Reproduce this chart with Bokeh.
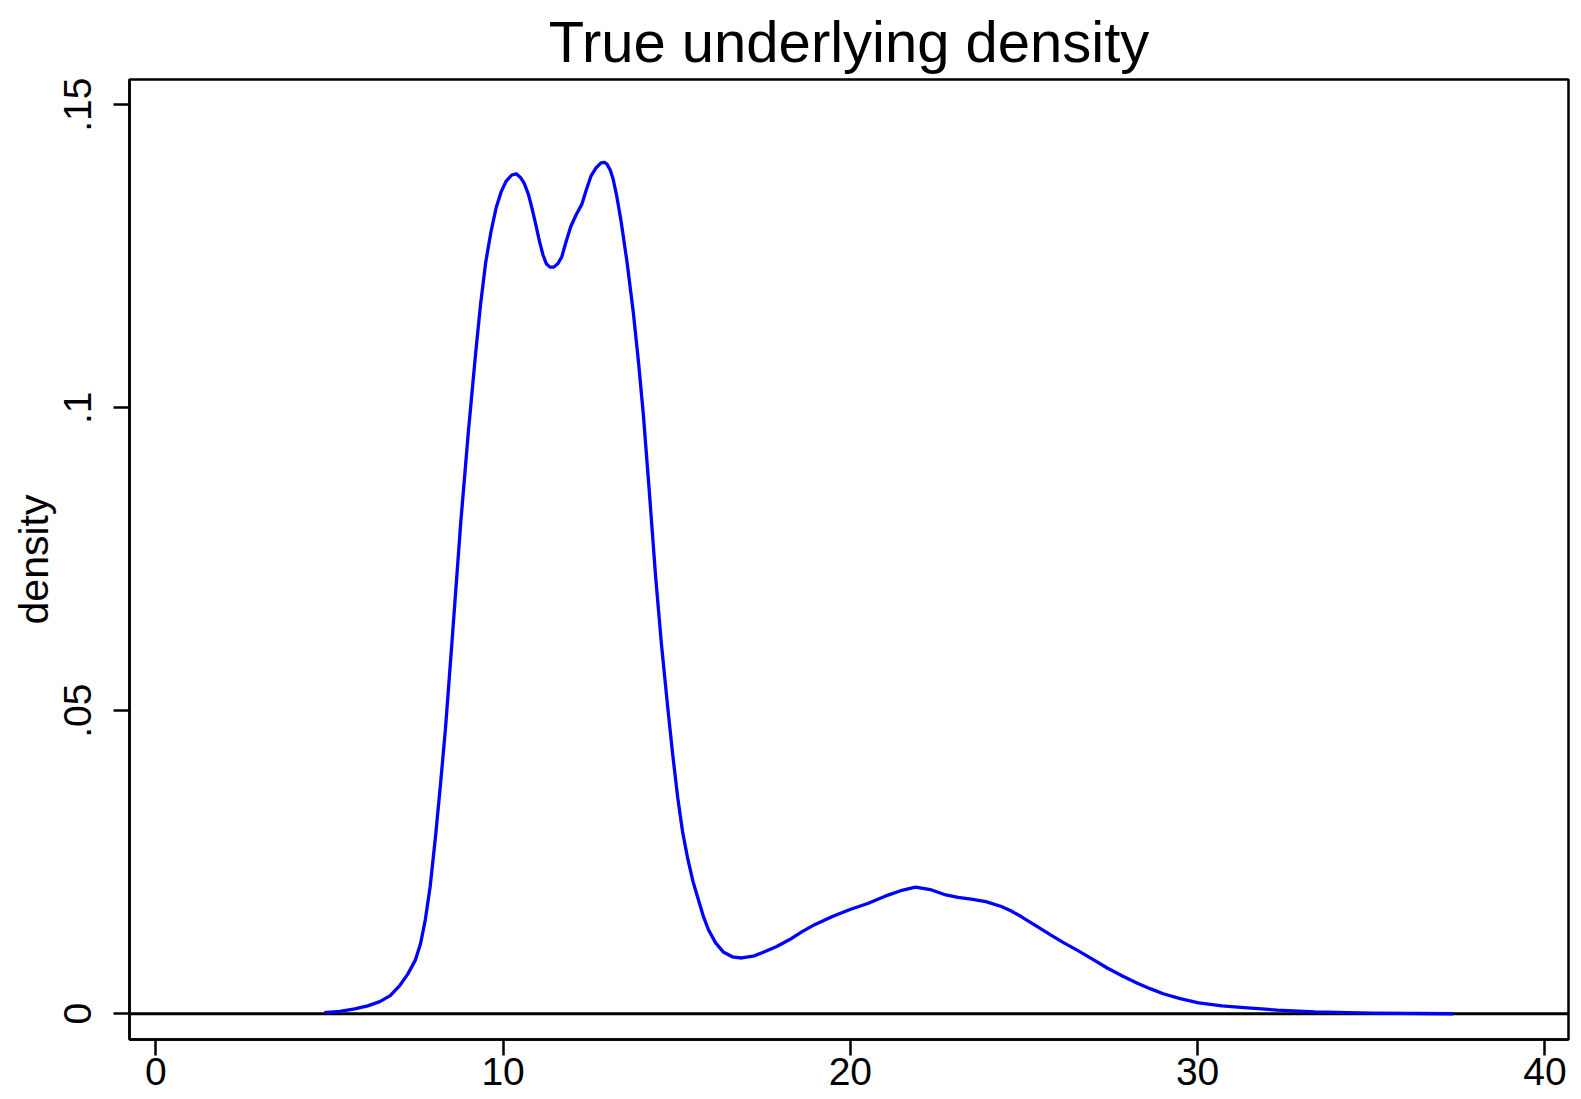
from bokeh.plotting import figure
from bokeh.models import Range1d, FixedTicker, CustomJSTickFormatter, Span
from bokeh.embed import file_html
from bokeh.resources import INLINE

# data
x_vals = [4.85, 5.3, 5.73, 6.1, 6.45, 6.75, 7.03, 7.25, 7.47, 7.62, 7.76, 7.9,
          8.05, 8.2, 8.34, 8.55, 8.78, 9.0, 9.21, 9.35, 9.5, 9.65, 9.8, 9.95,
          10.09, 10.25, 10.38, 10.5, 10.61, 10.73, 10.85, 10.95, 11.05, 11.15,
          11.25, 11.35, 11.46, 11.58, 11.69, 11.82, 11.95, 12.1, 12.27, 12.4,
          12.53, 12.68, 12.82, 12.92, 12.99, 13.08, 13.17, 13.28, 13.4, 13.57,
          13.75, 13.9, 14.04, 14.2, 14.39, 14.56, 14.74, 14.88, 15.03, 15.17,
          15.32, 15.47, 15.62, 15.76, 15.91, 16.12, 16.34, 16.6, 16.87, 17.2,
          17.51, 17.88, 18.24, 18.6, 18.97, 19.5, 19.99, 20.5, 21.0, 21.45,
          21.88, 22.3, 22.75, 23.1, 23.48, 23.9, 24.35, 24.65, 24.93, 25.35,
          25.8, 26.15, 26.53, 26.97, 27.41, 27.85, 28.28, 28.65, 29.01, 29.5,
          30.03, 30.7, 31.34, 32.3, 33.38, 35.0, 37.36]
density = [0.0002, 0.0004, 0.0008, 0.0013, 0.002, 0.003, 0.0047, 0.0065, 0.0088,
           0.0115, 0.0155, 0.021, 0.029, 0.038, 0.047, 0.063, 0.081, 0.096,
           0.109, 0.117, 0.124, 0.129, 0.133, 0.1357, 0.1374, 0.1384, 0.1386,
           0.138, 0.137, 0.1352, 0.1325, 0.13, 0.1274, 0.1252, 0.1237, 0.1232,
           0.1232, 0.1238, 0.1249, 0.1275, 0.1299, 0.1318, 0.1336, 0.136,
           0.1382, 0.1396, 0.1404, 0.1405, 0.1402, 0.1393, 0.1377, 0.1347,
           0.1307, 0.124, 0.1157, 0.1075, 0.0988, 0.087, 0.0723, 0.061, 0.0506,
           0.043, 0.0356, 0.03, 0.0255, 0.0218, 0.0189, 0.0162, 0.0139, 0.0117,
           0.0102, 0.0094, 0.0092, 0.0095, 0.0102, 0.0111, 0.0122, 0.0135,
           0.0147, 0.0161, 0.0172, 0.0182, 0.0194, 0.0203, 0.0209, 0.0205,
           0.0196, 0.0192, 0.0189, 0.0185, 0.0177, 0.0169, 0.016, 0.0145,
           0.0129, 0.0117, 0.0105, 0.009, 0.0075, 0.0062, 0.005, 0.0041, 0.0033,
           0.0025, 0.0018, 0.0013, 0.001, 0.0006, 0.0003, 0.0001, 0.0]
x_ticks = [0, 10, 20, 30, 40]
y_ticks = [0, 0.05, 0.1, 0.15]

FONT = "Liberation Sans"

p = figure(width=1573, height=1091, output_backend="svg", toolbar_location=None,
           x_range=Range1d(-0.758, 40.68), y_range=Range1d(-0.00425, 0.15416),
           title="True underlying density")
p.min_border_left = 129
p.min_border_right = 5
p.min_border_top = 79
p.min_border_bottom = 52

p.title.text_font = FONT
p.title.text_font_size = "58px"
p.title.text_font_style = "normal"
p.title.text_color = "black"
p.title.align = "center"
p.title.standoff = 11

p.background_fill_color = "white"
p.border_fill_color = "white"
p.outline_line_color = "black"
p.outline_line_width = 2.5
p.xgrid.visible = False
p.ygrid.visible = False

zero = Span(location=0, dimension="width", line_color="black", line_width=3, level="underlay")
p.add_layout(zero)

p.line(x_vals, density, line_color="#0000ff", line_width=3.3, line_join="round")

for ax in (p.xaxis[0], p.yaxis[0]):
    ax.axis_line_color = "black"
    ax.axis_line_width = 2.5
    ax.major_tick_line_color = "black"
    ax.major_tick_line_width = 2.5
    ax.major_tick_out = 16
    ax.major_tick_in = 0
    ax.minor_tick_line_color = None
    ax.major_label_text_font = FONT
    ax.major_label_text_font_size = "39px"
    ax.major_label_text_color = "black"

p.xaxis.ticker = FixedTicker(ticks=x_ticks)
p.xaxis.major_label_standoff = 2

p.yaxis.ticker = FixedTicker(ticks=y_ticks)
p.yaxis.formatter = CustomJSTickFormatter(
    code="return tick == 0 ? '0' : tick.toString().replace(/^0/, '');")
p.yaxis.major_label_orientation = "vertical"
p.yaxis.major_label_standoff = 22
p.yaxis.axis_label = "density"
p.yaxis.axis_label_text_font = FONT
p.yaxis.axis_label_text_font_size = "41px"
p.yaxis.axis_label_text_font_style = "normal"
p.yaxis.axis_label_text_color = "black"
p.yaxis.axis_label_standoff = 5

open("out.html", "w").write(file_html(p, INLINE))
